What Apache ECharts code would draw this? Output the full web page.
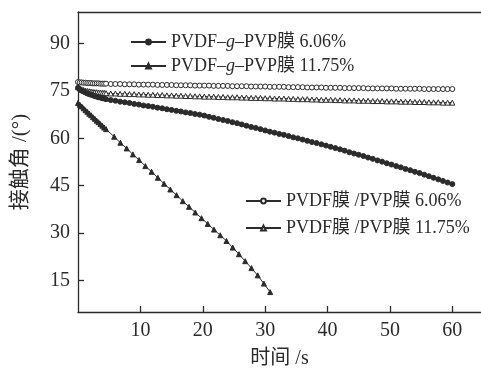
<!DOCTYPE html>
<html>
<head>
<meta charset="utf-8">
<script src="https://cdn.jsdelivr.net/npm/echarts@6/dist/echarts.min.js"></script>
<style>
html,body{margin:0;padding:0;background:#fff;}
#c{width:481px;height:369px;}
</style>
</head>
<body>
<div id="c"></div>
<script>
// ---- data ----
const names = ['PVDF-g-PVP膜 6.06%', 'PVDF-g-PVP膜 11.75%', 'PVDF膜/PVP膜 6.06%', 'PVDF膜/PVP膜 11.75%'];
const xTicks = [10, 20, 30, 40, 50, 60];
const yTicks = [15, 30, 45, 60, 75, 90];

// common time grid for the three long series (s)
const tLong = [0, 0.3, 0.6, 0.9, 1.2, 1.5, 1.8, 2.1, 2.4, 2.7, 3.0, 3.3, 3.6, 3.9, 4.2, 4.5,
  5.25, 6, 6.75, 7.5, 8.25, 9, 9.75, 10.5, 11.25, 12,
  12.75, 13.5, 14.25, 15, 15.75, 16.5, 17.25, 18, 18.75, 19.5,
  20.25, 21, 21.75, 22.5, 23.25, 24, 24.75, 25.5, 26.25, 27,
  27.75, 28.5, 29.25, 30, 30.75, 31.5, 32.25, 33, 33.75, 34.5,
  35.25, 36, 36.75, 37.5, 38.25, 39, 39.75, 40.5, 41.25, 42,
  42.75, 43.5, 44.25, 45, 45.75, 46.5, 47.25, 48, 48.75, 49.5,
  50.25, 51, 51.75, 52.5, 53.25, 54, 54.75, 55.5, 56.25, 57,
  57.75, 58.5, 59.25, 60];

const valA = [76.0, 75.5, 75.1, 74.8, 74.5, 74.2, 74.0, 73.8, 73.6, 73.4, 73.2, 73.0, 72.9, 72.7, 72.6, 72.4,
  72.1, 71.9, 71.6, 71.4, 71.2, 70.9, 70.7, 70.4, 70.2, 70.0,
  69.7, 69.5, 69.2, 69.0, 68.7, 68.5, 68.2, 68.0, 67.7, 67.5,
  67.2, 66.8, 66.5, 66.1, 65.8, 65.5, 65.1, 64.8, 64.4, 64.0,
  63.6, 63.3, 62.9, 62.5, 62.1, 61.8, 61.4, 61.1, 60.7, 60.3,
  60.0, 59.6, 59.2, 58.8, 58.5, 58.1, 57.7, 57.3, 56.9, 56.5,
  56.1, 55.6, 55.2, 54.8, 54.4, 53.9, 53.5, 53.0, 52.6, 52.1,
  51.7, 51.2, 50.8, 50.3, 49.9, 49.4, 49.0, 48.5, 48.0, 47.5,
  47.0, 46.5, 46.0, 45.5];

const valC = [77.8, 77.7, 77.7, 77.6, 77.6, 77.5, 77.5, 77.5, 77.4, 77.4, 77.4, 77.4, 77.3, 77.3, 77.3, 77.3,
  77.2, 77.2, 77.2, 77.1, 77.1, 77.1, 77.0, 77.0, 77.0, 77.0,
  76.9, 76.9, 76.9, 76.9, 76.8, 76.8, 76.8, 76.8, 76.7, 76.7,
  76.7, 76.7, 76.6, 76.6, 76.6, 76.6, 76.5, 76.5, 76.5, 76.5,
  76.4, 76.4, 76.4, 76.4, 76.3, 76.3, 76.3, 76.3, 76.2, 76.2,
  76.2, 76.2, 76.1, 76.1, 76.1, 76.1, 76.0, 76.0, 76.0, 76.0,
  75.9, 75.9, 75.9, 75.9, 75.9, 75.8, 75.8, 75.8, 75.8, 75.8,
  75.8, 75.7, 75.7, 75.7, 75.7, 75.7, 75.7, 75.6, 75.6, 75.6,
  75.6, 75.6, 75.6, 75.6];

const valD = [76.2, 75.8, 75.5, 75.3, 75.1, 75.0, 74.9, 74.8, 74.7, 74.6, 74.6, 74.5, 74.5, 74.4, 74.4, 74.3,
  74.2, 74.2, 74.1, 74.1, 74.0, 74.0, 73.9, 73.9, 73.8, 73.8,
  73.7, 73.7, 73.6, 73.6, 73.5, 73.5, 73.4, 73.4, 73.3, 73.3,
  73.2, 73.2, 73.2, 73.1, 73.1, 73.0, 73.0, 73.0, 72.9, 72.9,
  72.8, 72.8, 72.8, 72.7, 72.7, 72.6, 72.6, 72.6, 72.5, 72.5,
  72.4, 72.4, 72.4, 72.3, 72.3, 72.2, 72.2, 72.2, 72.1, 72.1,
  72.0, 72.0, 72.0, 71.9, 71.9, 71.9, 71.8, 71.8, 71.8, 71.7,
  71.7, 71.7, 71.6, 71.6, 71.6, 71.5, 71.5, 71.5, 71.4, 71.4,
  71.4, 71.3, 71.3, 71.3];

const tB = [0, 0.3, 0.6, 0.9, 1.2, 1.5, 1.8, 2.1, 2.4, 2.7, 3.0, 3.3, 3.6, 3.9, 4.2, 4.5,
  5.8, 6.8, 7.8, 8.8, 9.8, 10.8, 11.8, 12.8, 13.8, 14.8, 15.8, 16.8, 17.8, 18.8,
  19.8, 20.8, 21.8, 22.8, 23.8, 24.8, 25.8, 26.8, 27.8, 28.8, 29.8, 30.8];
const valB = [71.2, 70.6, 70.1, 69.5, 68.9, 68.4, 67.8, 67.3, 66.7, 66.2, 65.6, 65.1, 64.5, 64.0, 63.4, 62.9,
  60.5, 58.6, 56.8, 54.9, 53.1, 51.2, 49.4, 47.5, 45.6, 43.8, 42.0, 40.1, 38.3, 36.5,
  34.7, 32.9, 31.1, 29.3, 27.5, 25.4, 23.3, 21.1, 18.9, 16.6, 14.0, 11.3];

// ---- chart ----
const pair = (t, v) => t.map((x, i) => [x, v[i]]);
const FONT = "'Liberation Serif','Times New Roman','Noto Sans CJK SC',serif";
const INK = '#2b2b2b';
const legendText = {
  'PVDF-g-PVP膜 6.06%': 'PVDF\u2013{i|g}\u2013PVP膜 6.06%',
  'PVDF-g-PVP膜 11.75%': 'PVDF\u2013{i|g}\u2013PVP膜 11.75%',
  'PVDF膜/PVP膜 6.06%': 'PVDF膜 /PVP膜 6.06%',
  'PVDF膜/PVP膜 11.75%': 'PVDF膜 /PVP膜 11.75%'
};
const legendBase = {
  orient: 'vertical',
  itemWidth: 35,
  itemHeight: 6,
  itemGap: 6,
  formatter: n => legendText[n],
  textStyle: {
    fontFamily: FONT, fontSize: 18, color: INK,
    rich: { i: { fontFamily: FONT, fontSize: 18, fontStyle: 'italic', color: INK } }
  }
};
const mkSeries = (name, data, symbol, filled, size) => ({
  name, type: 'line', data,
  symbol, symbolSize: size,
  showSymbol: true,
  lineStyle: { color: INK, width: 1 },
  itemStyle: { color: filled ? INK : '#fff', borderColor: INK, borderWidth: 1 },
  animation: false
});

const chart = echarts.init(document.getElementById('c'));
chart.setOption({
  animation: false,
  backgroundColor: '#fff',
  grid: { left: 78, right: 0, top: 12, bottom: 57, containLabel: false, outerBoundsMode: 'none' },
  legend: [
    Object.assign({}, legendBase, { left: 125, top: 28, data: [names[0], names[1]] }),
    Object.assign({}, legendBase, { left: 240, top: 187, itemGap: 9, data: [names[2], names[3]] })
  ],
  xAxis: [{
    type: 'value', min: 0, max: 64.6,
    name: '时间 /s', nameLocation: 'middle', nameGap: 37,
    nameTextStyle: { fontFamily: FONT, fontSize: 20, color: INK },
    axisLine: { show: true, lineStyle: { color: INK, width: 1.3 } },
    axisTick: { show: true, inside: true, length: 6, customValues: xTicks, lineStyle: { color: INK, width: 1.3 } },
    axisLabel: { customValues: xTicks, fontFamily: FONT, fontSize: 20, color: INK, margin: 9 },
    splitLine: { show: false }
  }, {
    type: 'value', min: 0, max: 64.6, position: 'top',
    axisLine: { show: true, lineStyle: { color: INK, width: 1.3 } },
    axisTick: { show: false }, axisLabel: { show: false }, splitLine: { show: false }
  }],
  yAxis: {
    type: 'value', min: 5, max: 100,
    name: '接触角 /(°)', nameLocation: 'middle', nameGap: 47, nameRotate: 90,
    nameTextStyle: { fontFamily: FONT, fontSize: 21, color: INK },
    axisLine: { show: true, lineStyle: { color: INK, width: 1.3 } },
    axisTick: { show: true, inside: true, length: 6, customValues: yTicks, lineStyle: { color: INK, width: 1.3 } },
    axisLabel: { customValues: yTicks, fontFamily: FONT, fontSize: 20, color: INK, margin: 8 },
    splitLine: { show: false }
  },
  series: [
    mkSeries(names[2], pair(tLong, valC), 'circle', false, 5),
    mkSeries(names[3], pair(tLong, valD), 'triangle', false, 5),
    mkSeries(names[0], pair(tLong, valA), 'circle', true, 5),
    mkSeries(names[1], pair(tB, valB), 'triangle', true, 5)
  ]
});
</script>
</body>
</html>
